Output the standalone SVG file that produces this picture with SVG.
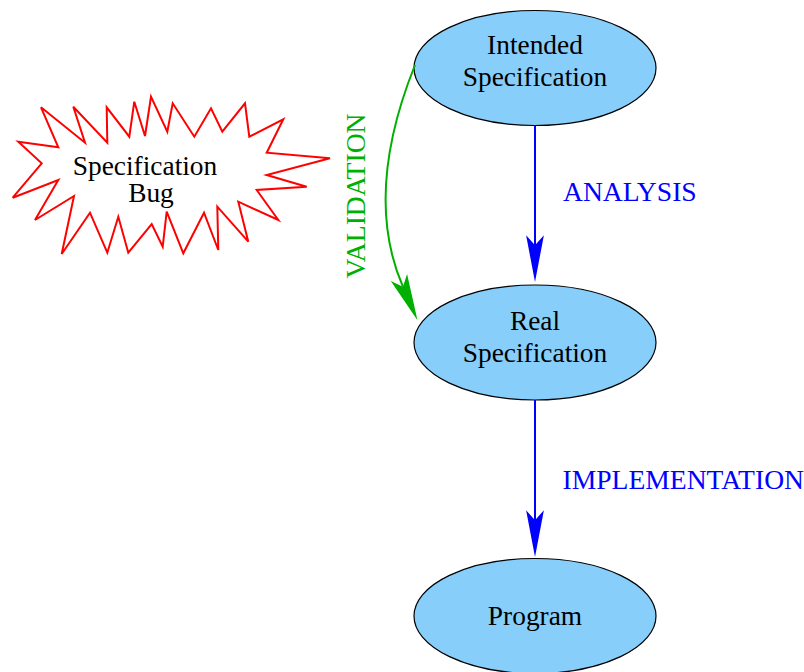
<svg xmlns="http://www.w3.org/2000/svg" width="804" height="672" viewBox="0 0 804 672">
  <style>
    .node ellipse { fill: #87cefa; stroke: #000; stroke-width: 1.2; }
    .lbl { font-family: "Liberation Serif", "Times New Roman", serif; font-size: 27.4px; text-anchor: middle; fill: #000; }
    .edge-lbl { font-family: "Liberation Serif", "Times New Roman", serif; font-size: 27.6px; }
    .blue { stroke: #0000ff; stroke-width: 2; fill: none; }
    .green { stroke: #00b000; stroke-width: 2; fill: none; }
  </style>
  <defs>
    <!-- notched arrowhead; path end sits at the notch, tip is 33 ahead -->
    <marker id="arrow-blue" markerUnits="userSpaceOnUse" orient="auto" markerWidth="50" markerHeight="20" viewBox="-10 -9 45 18" refX="0" refY="0">
      <path d="M33,0 L-9,-8 L0,0 L-9,8 Z" fill="#0000ff"/>
    </marker>
    <marker id="arrow-green" markerUnits="userSpaceOnUse" orient="auto" markerWidth="50" markerHeight="20" viewBox="-10 -9 45 18" refX="0" refY="0">
      <path d="M33,0 L-9,-8 L0,0 L-9,8 Z" fill="#00b000"/>
    </marker>
  </defs>

  <!-- bug starburst -->
  <g id="bug">
    <polygon fill="#fff" stroke="#ff0000" stroke-width="2" stroke-linejoin="miter"
      points="18.3,141.7 58.3,147.3 41,107.3 85,142.7 73.3,106.7 107.3,142.7 106.7,107.3 129.3,136.7 134.3,101.7 145,136 151,96.7 167.3,131.7 172.7,103.3 194.3,136.7 211,108.3 222.3,131.7 245,103.3 249.3,136.7 283.3,119.3 266.7,152.7 330,158.3 266.7,175 306.7,186.7 256.7,190 278.3,220 238.3,201.7 248.3,241.7 217.3,206.7 218.3,250 204,212.7 183.3,253.3 166.7,211.7 162.7,246.7 151.7,224 128.3,252.7 118.3,216.7 107.3,252.7 90,212.7 61.7,254 74,196 35,220 58.3,180 12.7,197.7 41.7,163.3"/>
    <text class="lbl" x="145" y="175">Specification</text>
    <text class="lbl" x="151" y="201.5">Bug</text>
  </g>

  <g id="intended" class="node">
    <ellipse cx="535" cy="68" rx="121" ry="57.5"/>
    <text class="lbl" x="535" y="53.5">Intended</text>
    <text class="lbl" x="535" y="85.5">Specification</text>
  </g>

  <g id="real" class="node">
    <ellipse cx="535" cy="342.5" rx="121" ry="57.5"/>
    <text class="lbl" x="535" y="329.5">Real</text>
    <text class="lbl" x="535" y="361.5">Specification</text>
  </g>

  <g id="program" class="node">
    <ellipse cx="535" cy="616" rx="121" ry="57.5"/>
    <text class="lbl" x="535" y="625">Program</text>
  </g>

  <g id="connectors">
    <path class="blue" d="M535,125.5 L535,245.3" marker-end="url(#arrow-blue)"/>
    <path class="blue" d="M535,400 L535,520.3" marker-end="url(#arrow-blue)"/>
    <path class="green" d="M415,65 Q363,194.5 402.9,286.7" marker-end="url(#arrow-green)"/>
    <text class="edge-lbl" x="563" y="200.5" fill="#0000ff">ANALYSIS</text>
    <text class="edge-lbl" x="562.5" y="488.5" fill="#0000ff">IMPLEMENTATION</text>
    <text class="edge-lbl" x="0" y="0" fill="#00b000" text-anchor="middle" transform="translate(365,196) rotate(-90)">VALIDATION</text>
  </g>
</svg>
